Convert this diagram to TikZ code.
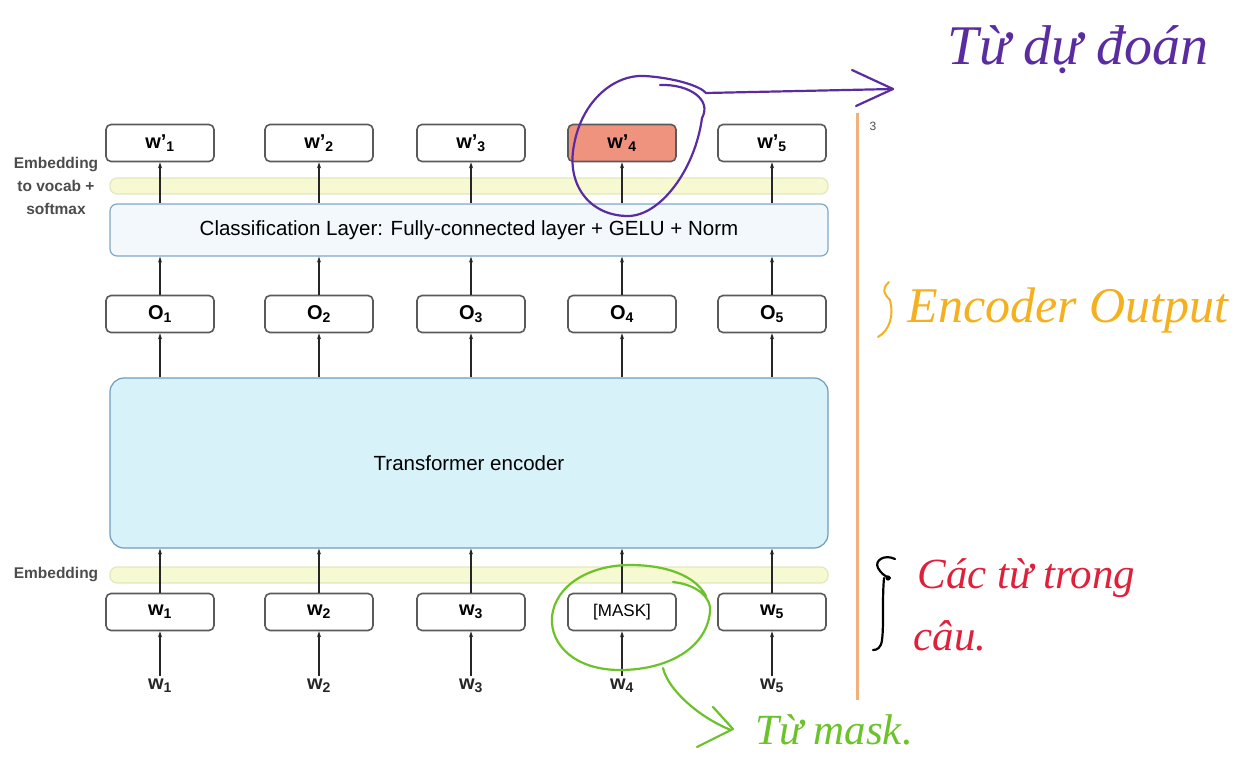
\documentclass[tikz,border=0pt]{standalone}
\usepackage{fontspec}
\setmainfont{Liberation Sans}
\newfontfamily\handfont{Liberation Serif}
\usetikzlibrary{arrows.meta}
\definecolor{boxgray}{HTML}{5A5A5A}
\definecolor{salmon}{HTML}{F0937E}
\definecolor{barfill}{HTML}{F7F9D2}
\definecolor{barline}{HTML}{E2E8BE}
\definecolor{clsfill}{HTML}{F2F8FC}
\definecolor{clsline}{HTML}{7FA8C6}
\definecolor{encfill}{HTML}{D8F2FA}
\definecolor{encline}{HTML}{6E9CBC}
\definecolor{rule}{HTML}{F0B27A}
\definecolor{penpurple}{HTML}{5B2CA0}
\definecolor{penorange}{HTML}{F5B020}
\definecolor{penred}{HTML}{E0203A}
\definecolor{pengreen}{HTML}{6CC22A}
\begin{document}
\begin{tikzpicture}[x=1pt,y=-1pt,
  tok/.style={draw=boxgray, line width=1.6pt, rounded corners=5pt,
    minimum width=108pt, minimum height=37pt, fill=white, inner sep=0pt,
    font=\bfseries\fontsize{20}{22}\selectfont},
  band/.style={rounded corners=7pt, line width=1.2pt, minimum width=718pt, inner sep=0pt},
  inlabel/.style={font=\bfseries\fontsize{20}{22}\selectfont, text=black!85},
  sidelabel/.style={font=\bfseries\fontsize{15.5}{23}\selectfont, text=black!70, align=center},
  up/.style={-{Stealth[length=6pt,width=4pt]}, line width=1.1pt, black!85},
  pen/.style={line width=2.2pt, line cap=round, line join=round}]
\useasboundingbox (0,0) rectangle (1238,759);

% bands
\node[band, draw=barline, fill=barfill, minimum height=16pt] (vbar) at (469,186) {};
\node[band, draw=clsline, fill=clsfill, minimum height=52pt,
      font=\fontsize{20.5}{22}\selectfont] (cls) at (469,230)
  {Classification Layer: Fully-connected layer + GELU + Norm};
\node[band, draw=encline, fill=encfill, minimum height=170pt, rounded corners=14pt,
      font=\fontsize{20.5}{22}\selectfont] (enc) at (469,463) {Transformer encoder};
\node[band, draw=barline, fill=barfill, minimum height=16pt] (ebar) at (469,575) {};

% side labels
\node[sidelabel] (lvocab) at (56,186) {Embedding\\to vocab +\\softmax};
\node[sidelabel] (lemb) at (56,575) {Embedding};

% columns
\foreach \i/\x/\mid in {1/160/w\textsubscript{1}, 2/319/w\textsubscript{2}, 3/471/w\textsubscript{3}, 4/622/{\mdseries\fontsize{17}{19}\selectfont[MASK]}, 5/772/w\textsubscript{5}} {
  \node[tok] (in\i) at (\x,612) {\mid};
}
\foreach \i/\x in {1/160, 2/319, 3/471, 4/622, 5/772} {
  \node[inlabel] (raw\i) at (\x,686) {w\textsubscript{\i}};
  \node[tok] (o\i) at (\x,314) {O\textsubscript{\i}};
  \draw[up] (raw\i.north) -- (in\i.south);
  \draw[up] (in\i.north) -- (in\i.north |- enc.south);
  \draw[up] (o\i.south |- enc.north) -- (o\i.south);
  \draw[up] (o\i.north) -- (o\i.north |- cls.south);
}
\foreach \i/\x in {1/160, 2/319, 3/471, 5/772} {
  \node[tok] (p\i) at (\x,143) {w'\textsubscript{\i}};
}
\node[tok, fill=salmon] (p4) at (622,143) {w'\textsubscript{4}};
\foreach \i in {1,...,5} {
  \draw[up] (p\i.south |- cls.north) -- (p\i.south);
}

% page rule and page number
\coordinate (rtop) at (857,113);
\coordinate (rbot) at (857,700);
\draw[rule, line width=3pt] (rtop) -- (rbot);
\node[font=\fontsize{12}{14}\selectfont, text=black!70] (pgno) at (873,126) {3};

% predicted word annotation
\coordinate (pb) at (893,89);
\draw[pen, penpurple] (660,85) .. controls (690,84) and (712,100) .. (702,118)
  .. controls (695,170) and (660,216) .. (628,216)
  .. controls (590,216) and (566,185) .. (574,145)
  .. controls (582,100) and (615,74) .. (645,76)
  .. controls (675,78) and (700,86) .. (706,93) -- (pb);
\draw[pen, penpurple] (852,70) -- (pb) -- (856,106);
\node[text=penpurple, font=\handfont\itshape\fontsize{56}{60}\selectfont] (tpred) at (1078,50) {Từ dự đoán};

% encoder output annotation
\draw[pen, penorange, line width=2pt] (889,282) .. controls (880,290) and (886,296) .. (890,300)
  .. controls (894,315) and (890,330) .. (878,337);
\node[text=penorange, font=\handfont\itshape\fontsize{50}{54}\selectfont, anchor=west] (tenc) at (904,310) {Encoder Output};

% sentence words annotation
\draw[pen, black] (895,559) .. controls (885,554) and (874,560) .. (878,568)
  .. controls (881,573) and (884,576) .. (890,578);
\draw[pen, black] (884,578) .. controls (882,600) and (884,625) .. (882,640)
  .. controls (881,648) and (877,650) .. (873,650);
\fill (888,578) circle (2.6pt);
\node[text=penred, font=\handfont\itshape\fontsize{43}{46}\selectfont, anchor=west] (tsent1) at (914,578) {Các từ trong};
\node[text=penred, font=\handfont\itshape\fontsize{43}{46}\selectfont, anchor=west] (tsent2) at (910,636) {câu.};

% masked word annotation
\draw[pen, pengreen] (673,582) .. controls (700,585) and (712,600) .. (710,612)
  .. controls (706,650) and (665,670) .. (620,670)
  .. controls (575,670) and (550,645) .. (552,617)
  .. controls (555,585) and (590,565) .. (630,565)
  .. controls (665,565) and (695,575) .. (706,596);
\coordinate (ga) at (663,668);
\coordinate (gb) at (731,730);
\draw[pen, pengreen] (ga) .. controls (668,690) and (700,718) .. (gb);
\draw[pen, pengreen] (713,707) -- (733,729) -- (697,747);
\node[text=pengreen, font=\handfont\itshape\fontsize{43}{46}\selectfont, anchor=west] (tmask) at (752,730) {Từ mask.};
\end{tikzpicture}
\end{document}
